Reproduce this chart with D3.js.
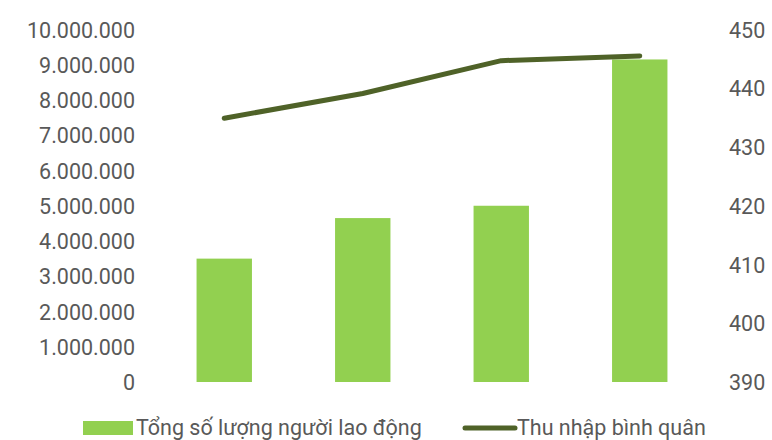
<!DOCTYPE html>
<html>
<head>
<meta charset="utf-8">
<script src="https://cdn.jsdelivr.net/npm/d3@7"></script>
<style>
  body { margin: 0; background: #fff; }
  text { font-family: Roboto, "Noto Sans", sans-serif; fill: #595959; }
</style>
</head>
<body>
<script>
var width = 772, height = 440;

// du lieu doc tu bieu do
var categories = ["1", "2", "3", "4"];
var laoDong = [3500000, 4650000, 5000000, 9150000];
var thuNhap = [434.9, 439.1, 444.7, 445.5];
var leftTicks = [0, 1000000, 2000000, 3000000, 4000000, 5000000, 6000000, 7000000, 8000000, 9000000, 10000000];
var rightTicks = [390, 400, 410, 420, 430, 440, 450];

var svg = d3.select("body").append("svg")
    .attr("width", width)
    .attr("height", height);

var x = d3.scaleBand().domain(categories).range([155, 709]).paddingInner(0.6).paddingOuter(0.3);
var yL = d3.scaleLinear().domain([0, 10000000]).range([382, 29.5]);
var yR = d3.scaleLinear().domain([390, 450]).range([382, 29.5]);

var fs = "21.5px";
var fmt = function(d) { return d3.format(",")(d).replace(/,/g, "."); };

// truc trai
var axL = svg.append("g")
    .attr("transform", "translate(140,0)")
    .call(d3.axisLeft(yL).tickValues(leftTicks).tickFormat(fmt).tickSize(0).tickPadding(5));
axL.select(".domain").remove();
axL.selectAll("text").style("font-size", fs).attr("fill", "#595959").attr("dy", "0.35em");

// truc phai
var axR = svg.append("g")
    .attr("transform", "translate(724,0)")
    .call(d3.axisRight(yR).tickValues(rightTicks).tickSize(0).tickPadding(5));
axR.select(".domain").remove();
axR.selectAll("text").style("font-size", fs).attr("fill", "#595959").attr("dy", "0.35em");

// cot
svg.append("g").selectAll("rect")
    .data(laoDong)
    .enter()
    .append("rect")
    .attr("x", function(d, i) { return x(categories[i]); })
    .attr("y", function(d) { return yL(d); })
    .attr("width", x.bandwidth())
    .attr("height", function(d) { return yL(0) - yL(d); })
    .attr("fill", "#92d050");

// duong
var line = d3.line()
    .x(function(d, i) { return x(categories[i]) + x.bandwidth() / 2; })
    .y(function(d) { return yR(d); });

svg.append("path")
    .datum(thuNhap)
    .attr("d", line)
    .attr("fill", "none")
    .attr("stroke", "#4f6228")
    .attr("stroke-width", 5)
    .attr("stroke-linecap", "round")
    .attr("stroke-linejoin", "round");

// chu thich
var lg = svg.append("g");
lg.append("rect").attr("x", 83).attr("y", 421).attr("width", 50).attr("height", 14).attr("fill", "#92d050");
lg.append("text").attr("x", 136).attr("y", 427).attr("dy", "0.35em").style("font-size", fs)
    .text("Tổng số lượng người lao động");
lg.append("line").attr("x1", 465).attr("x2", 515).attr("y1", 428).attr("y2", 428)
    .attr("stroke", "#4f6228").attr("stroke-width", 5).attr("stroke-linecap", "round");
lg.append("text").attr("x", 517).attr("y", 427).attr("dy", "0.35em").style("font-size", fs)
    .text("Thu nhập bình quân");
</script>
</body>
</html>
